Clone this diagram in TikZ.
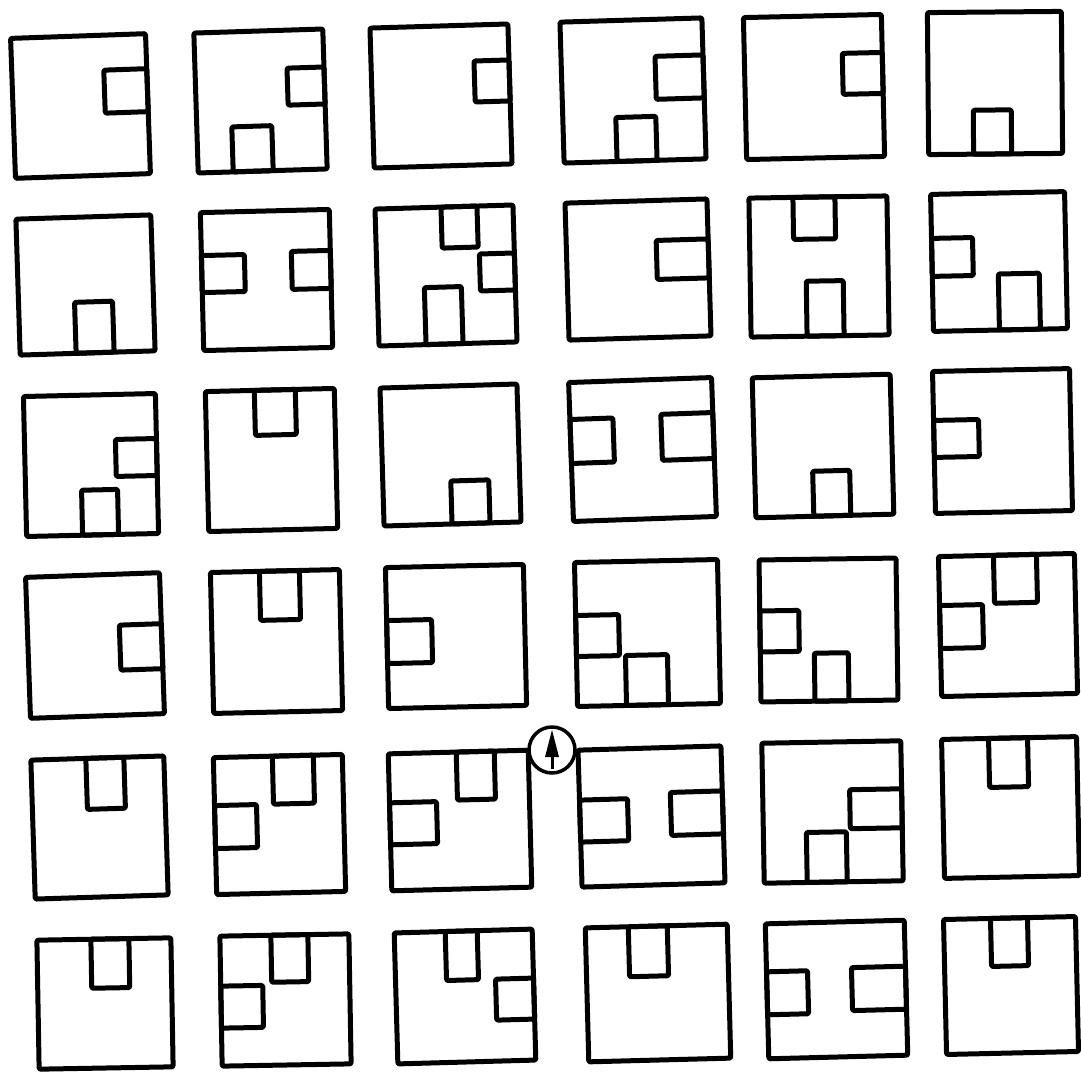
\documentclass[tikz,border=0pt]{standalone}
\tikzset{wall/.style={line width=5pt, line join=round, rounded corners=1.2pt}}
\newcommand\flr[6]{\begin{scope}[rotate around={#1:({(#2+#4)/2},{(#3+#5)/2})}]\draw[wall] (#2,#3) rectangle (#4,#5);#6\end{scope}}
\newcommand\nch[4]{\draw[wall] (#1,#2) rectangle (#3,#4);}
\begin{document}
\begin{tikzpicture}[x=1pt,y=-1pt]
\useasboundingbox (0,0) rectangle (1081,1073);
% row 1
\flr{2}{13}{36}{148}{176}{\nch{105}{71}{148}{114}}
\flr{1.8}{196}{31}{325}{171}{\nch{288}{69}{325}{106}\nch{231}{126}{271}{171}}
\flr{1.7}{372}{26}{510}{166}{\nch{475}{62}{510}{103}}
\flr{1.7}{562}{20}{704}{161}{\nch{656}{57}{704}{100}\nch{615}{117}{655}{161}}
\flr{1.3}{745}{16}{883}{158}{\nch{843}{54}{883}{95}}
\flr{0.5}{928}{12}{1062}{154}{\nch{973}{110}{1011}{154}}
% row 2
\flr{1.8}{18}{217}{153}{353}{\nch{74}{302}{112}{353}}
\flr{1.4}{202}{211}{331}{349}{\nch{202}{254}{245}{291}\nch{292}{252}{331}{290}}
\flr{1.7}{377}{207}{515}{344}{\nch{443}{207}{479}{248}\nch{480}{255}{515}{292}\nch{424}{287}{461}{344}}
\flr{1.7}{567}{201}{709}{338}{\nch{657}{241}{709}{280}}
\flr{0.9}{750}{197}{888}{336}{\nch{794}{197}{836}{239}\nch{806}{281}{843}{336}}
\flr{1.2}{932}{193}{1066}{330}{\nch{932}{237}{973}{275}\nch{998}{274}{1039}{330}}
% row 3
\flr{1.3}{25}{395}{157}{535}{\nch{116}{440}{157}{477}\nch{81}{490}{117}{535}}
\flr{1.4}{207}{390}{336}{530}{\nch{256}{390}{297}{435}}
\flr{1.7}{382}{386}{519}{524}{\nch{450}{481}{488}{524}}
\flr{2}{571}{380}{714}{519}{\nch{571}{417}{614}{461}\nch{662}{415}{714}{461}}
\flr{1.5}{754}{376}{892}{516}{\nch{812}{471}{849}{516}}
\flr{1.2}{934}{370}{1071}{512}{\nch{934}{419}{979}{456}}
% row 4
\flr{2}{28}{575}{162}{716}{\nch{120}{626}{162}{671}}
\flr{1.3}{212}{571}{341}{712}{\nch{261}{571}{301}{620}}
\flr{1.3}{387}{566}{525}{707}{\nch{387}{619}{432}{662}}
\flr{1.2}{576}{561}{719}{705}{\nch{576}{614}{619}{655}\nch{625}{655}{667}{705}}
\flr{0.8}{760}{559}{897}{701}{\nch{760}{610}{799}{651}\nch{814}{653}{848}{701}}
\flr{1.3}{940}{555}{1076}{695}{\nch{995}{555}{1038}{603}\nch{940}{604}{983}{647}}
% row 5
\flr{1.8}{33}{758}{166}{897}{\nch{88}{758}{126}{809}}
\flr{1.4}{215}{756}{344}{893}{\nch{274}{756}{315}{804}\nch{215}{804}{257}{847}}
\flr{1.5}{390}{752}{530}{889}{\nch{458}{752}{496}{800}\nch{390}{801}{437}{843}}
\flr{1.7}{580}{748}{723}{885}{\nch{580}{798}{628}{840}\nch{671}{793}{723}{836}}
\flr{1}{763}{742}{902}{882}{\nch{850}{790}{902}{829}\nch{806}{832}{846}{882}}
\flr{1.2}{943}{738}{1078}{877}{\nch{990}{738}{1029}{787}}
% row 6
\flr{1}{38}{939}{172}{1068}{\nch{92}{939}{130}{988}}
\flr{1}{221}{935}{350}{1065}{\nch{272}{935}{309}{982}\nch{221}{985}{263}{1027}}
\flr{1.6}{396}{931}{534}{1062}{\nch{447}{931}{479}{980}\nch{496}{980}{534}{1021}}
\flr{1.5}{587}{926}{729}{1060}{\nch{630}{926}{669}{976}}
\flr{1.5}{767}{922}{906}{1057}{\nch{767}{970}{808}{1013}\nch{852}{968}{906}{1011}}
\flr{1.3}{945}{918}{1077}{1053}{\nch{992}{918}{1029}{966}}
% north arrow
\node[circle, draw, line width=3.5pt, minimum size=46pt, inner sep=0pt] (north) at (552,750) {};
\coordinate (tip) at (552,730);
\fill (tip) -- (545,757) -- (559,757) -- cycle;
\draw[line width=3pt] (552,755) -- (552,769);
\end{tikzpicture}
\end{document}
